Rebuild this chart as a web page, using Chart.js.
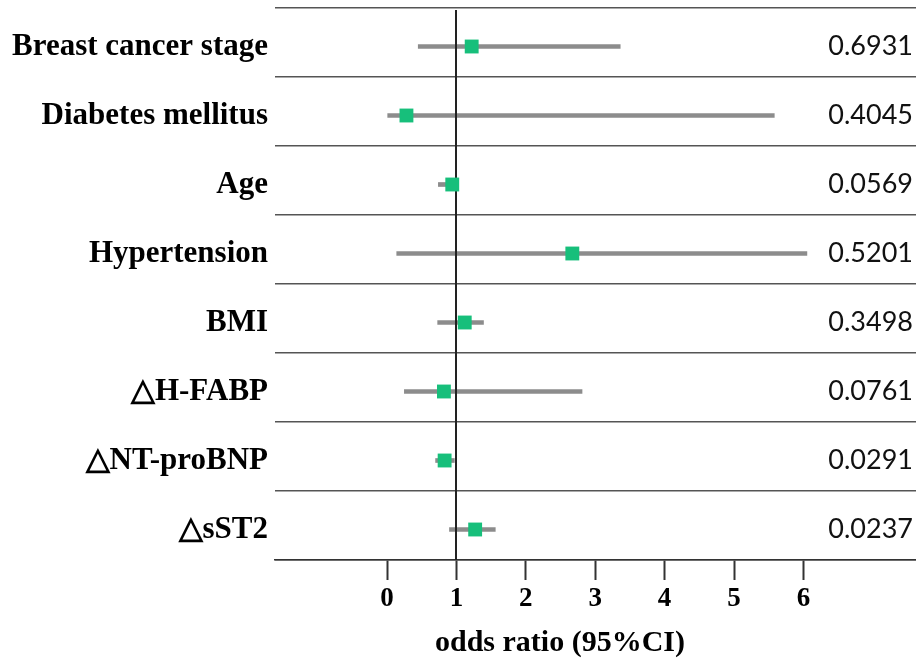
<!DOCTYPE html>
<html><head><meta charset="utf-8">
<script src="https://cdn.jsdelivr.net/npm/chart.js@4"></script>
<style>html,body{margin:0;padding:0;background:#fff}</style>
</head><body>
<canvas id="c" width="916" height="662"></canvas>
<script>
const categories = ['Breast cancer stage','Diabetes mellitus','Age','Hypertension','BMI','△H-FABP','△NT-proBNP','△sST2'];
const oddsRatio = [1.22, 0.28, 0.94, 2.67, 1.12, 0.82, 0.83, 1.27];
const ciLower  = [0.45, 0.01, 0.74, 0.14, 0.73, 0.25, 0.70, 0.90];
const ciUpper  = [3.36, 5.58, 1.02, 6.05, 1.39, 2.81, 0.97, 1.56];
const pValues  = ['0.6931','0.4045','0.0569','0.5201','0.3498','0.0761','0.0291','0.0237'];
const xTicks   = [0, 1, 2, 3, 4, 5, 6];
const refValue = 1;
const axisTitle = 'odds ratio (95%CI)';

const SERIF = '"Liberation Serif", "Times New Roman", serif';
const SHIFT = 0.058;
const yMin = -0.5 - SHIFT, yMax = categories.length - 0.5 - SHIFT;
const rowIdx = categories.map((_, i) => i);
const boundaries = Array.from({length: categories.length + 1}, (_, k) => yMin + k);

function noPad(s) { s.paddingTop = 0; s.paddingBottom = 0; s.paddingLeft = 0; s.paddingRight = 0; }

const refLine = {
  id: 'refLine',
  afterDatasetDraw(chart, args) {
    if (args.index !== 0) return;
    const {ctx, chartArea, scales} = chart;
    const px = Math.round(scales.x.getPixelForValue(refValue));
    ctx.save();
    ctx.strokeStyle = '#222'; ctx.lineWidth = 2;
    ctx.beginPath(); ctx.moveTo(px, chartArea.top + 2); ctx.lineTo(px, chartArea.bottom); ctx.stroke();
    ctx.restore();
  }
};
const xTitle = {
  id: 'xTitle',
  afterDraw(chart) {
    const {ctx} = chart;
    ctx.save();
    ctx.font = 'bold 30px ' + SERIF;
    ctx.fillStyle = '#000'; ctx.textAlign = 'center'; ctx.textBaseline = 'middle';
    ctx.fillText(axisTitle, 560, 643);
    ctx.restore();
  }
};

new Chart(document.getElementById('c'), {
  type: 'bar',
  data: {
    datasets: [
      { type: 'bar', data: rowIdx.map(i => ({y: i, x: [ciLower[i], ciUpper[i]]})),
        backgroundColor: '#8c8c8c', barThickness: 4, borderWidth: 0, order: 2 },
      { type: 'line', data: rowIdx.map(i => ({y: i, x: oddsRatio[i]})), showLine: false,
        pointStyle: 'rect', pointRadius: 9.8, pointHoverRadius: 9.8,
        pointBackgroundColor: '#17bf7b', pointBorderColor: '#17bf7b', pointBorderWidth: 0, order: 1 }
    ]
  },
  options: {
    indexAxis: 'y', responsive: false, animation: false,
    layout: {autoPadding: false, padding: {top: 8, left: 0, right: 0, bottom: 0}},
    plugins: {legend: {display: false}, tooltip: {enabled: false}},
    scales: {
      x: {
        type: 'linear', min: -1.614, max: 7.622, offset: false,
        afterBuildTicks: s => { s.ticks = xTicks.map(v => ({value: v})); },
        grid: {drawOnChartArea: false, tickLength: 20, tickColor: '#333', tickWidth: 2},
        border: {display: true, color: '#333', width: 1.5},
        ticks: {padding: 3, color: '#000', font: {family: SERIF, weight: 'bold', size: 27}},
        afterFit: s => { s.height = 102; noPad(s); }
      },
      y: {
        type: 'linear', position: 'left', reverse: true, min: yMin, max: yMax, offset: false,
        afterBuildTicks: s => { s.ticks = rowIdx.map(v => ({value: v})); },
        ticks: {callback: v => categories[v], padding: 7, color: '#000',
                font: {family: SERIF, weight: 'bold', size: 31}},
        grid: {display: false, drawTicks: false, offset: false},
        border: {display: false},
        afterFit: s => { s.width = 275; noPad(s); }
      },
      ySep: {
        type: 'linear', position: 'left', reverse: true, min: yMin, max: yMax, offset: false,
        afterBuildTicks: s => { s.ticks = boundaries.map(v => ({value: v})); },
        ticks: {display: false},
        grid: {color: '#555', lineWidth: 1.5, drawTicks: false, offset: false},
        border: {display: false},
        afterFit: s => { s.width = 0; noPad(s); }
      },
      yP: {
        type: 'linear', position: 'right', reverse: true, min: yMin, max: yMax, offset: false,
        afterBuildTicks: s => { s.ticks = rowIdx.map(v => ({value: v})); },
        ticks: {mirror: true, padding: -3, callback: v => pValues[v], color: '#111',
                font: {family: 'Lato, "Open Sans", sans-serif', size: 27}},
        grid: {display: false, drawTicks: false},
        border: {display: false},
        afterFit: s => { s.width = 0; noPad(s); }
      }
    }
  },
  plugins: [refLine, xTitle]
});
</script>
</body></html>
